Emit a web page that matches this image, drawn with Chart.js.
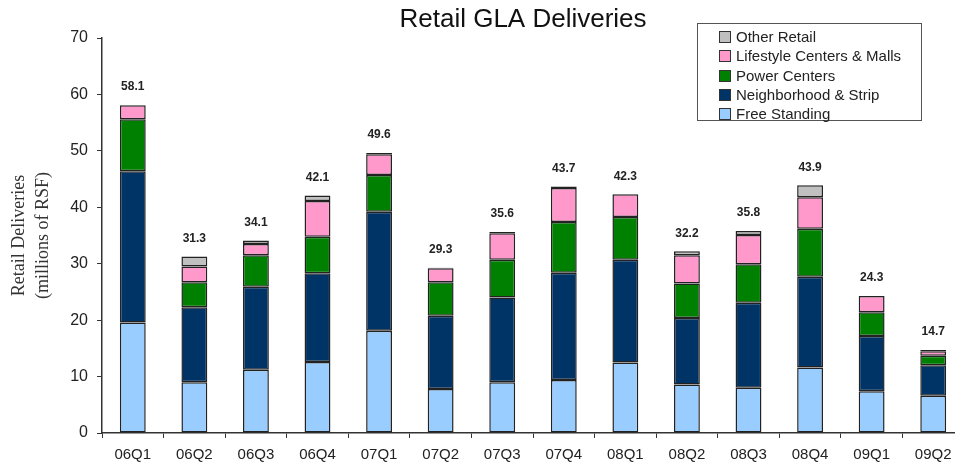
<!DOCTYPE html>
<html lang="en">
<head>
    <meta charset="UTF-8">
    <title>Retail GLA Deliveries</title>
    <script src="https://cdn.jsdelivr.net/npm/chart.js"></script>
    <style>
        body { margin: 0; overflow: hidden; background: #fff; font-family: "Liberation Sans", Arial, sans-serif; }
        #wrap { position: relative; width: 980px; height: 468px; }
        #legend {
            position: absolute; left: 697px; top: 23px; width: 225px; height: 98px;
            border: 1px solid #555; background: #fff; padding-top: 3px; box-sizing: border-box;
        }
        .item { height: 19.3px; line-height: 19.3px; font-size: 15px; color: #222; white-space: nowrap; }
        .sw { display: inline-block; width: 10px; height: 10px; border: 1px solid #333; margin-left: 21px; margin-right: 5px; vertical-align: -1px; }
    </style>
</head>
<body>
<div id="wrap">
    <canvas id="gla" width="980" height="468"></canvas>
    <div id="legend"></div>
</div>

<script>
    const quarters = ['06Q1', '06Q2', '06Q3', '06Q4', '07Q1', '07Q2', '07Q3', '07Q4', '08Q1', '08Q2', '08Q3', '08Q4', '09Q1', '09Q2'];

    const freeStanding  = [19.6, 9.0, 11.2, 12.6, 18.1, 7.8, 9.0, 9.4, 12.5, 8.6, 8.0, 11.6, 7.4, 6.6];
    const neighborhood  = [26.8, 13.3, 14.7, 15.7, 21.1, 13.0, 15.0, 19.0, 18.2, 11.8, 15.1, 16.1, 9.8, 5.4];
    const powerCenters  = [9.2, 4.4, 5.6, 6.5, 6.5, 5.9, 6.7, 9.0, 7.6, 6.1, 6.8, 8.5, 4.2, 1.7];
    const lifestyle     = [2.5, 2.8, 2.0, 6.3, 3.7, 2.5, 4.7, 6.0, 4.0, 5.0, 5.2, 5.6, 2.9, 0.8];
    const otherRetail   = [null, 1.8, 0.6, 1.0, 0.2, 0.1, 0.2, 0.3, null, 0.7, 0.7, 2.1, null, 0.2];
    const totals        = [58.1, 31.3, 34.1, 42.1, 49.6, 29.3, 35.6, 43.7, 42.3, 32.2, 35.8, 43.9, 24.3, 14.7];

    const yTicks = [0, 10, 20, 30, 40, 50, 60, 70];

    const series = [
        { label: 'Free Standing', data: freeStanding, color: '#99ccff' },
        { label: 'Neighborhood & Strip', data: neighborhood, color: '#003366' },
        { label: 'Power Centers', data: powerCenters, color: '#008000' },
        { label: 'Lifestyle Centers & Malls', data: lifestyle, color: '#ff99cc' },
        { label: 'Other Retail', data: otherRetail, color: '#c0c0c0' }
    ];

    // legend, top item is the last stack segment
    const legend = document.getElementById('legend');
    series.slice().reverse().forEach(s => {
        const row = document.createElement('div');
        row.className = 'item';
        row.innerHTML = '<span class="sw" style="background:' + s.color + '"></span>' + s.label;
        legend.appendChild(row);
    });

    const totalsPlugin = {
        id: 'totals',
        afterDatasetsDraw(chart) {
            const ctx = chart.ctx;
            const meta = chart.getDatasetMeta(0);
            const y = chart.scales.y;
            ctx.save();
            ctx.font = 'bold 12px "Liberation Sans", Arial, sans-serif';
            ctx.fillStyle = '#222';
            ctx.textAlign = 'center';
            ctx.textBaseline = 'middle';
            totals.forEach((t, i) => {
                ctx.fillText(t.toFixed(1), meta.data[i].x, y.getPixelForValue(t) - 18);
            });
            ctx.restore();
        }
    };

    const titlePlugin = {
        id: 'bigTitle',
        afterDraw(chart) {
            const ctx = chart.ctx;
            ctx.save();
            ctx.font = '26px "Liberation Sans", Arial, sans-serif';
            ctx.fillStyle = '#111';
            ctx.textAlign = 'center';
            ctx.textBaseline = 'middle';
            ctx.fillText('Retail GLA Deliveries', 523, 20);
            ctx.restore();
        }
    };

    const ctx = document.getElementById('gla').getContext('2d');
    const glaChart = new Chart(ctx, {
        type: 'bar',
        data: {
            labels: quarters,
            datasets: series.map(s => ({
                label: s.label,
                data: s.data,
                backgroundColor: s.color,
                borderColor: '#222',
                borderWidth: 1.5,
                borderSkipped: false,
                barPercentage: 0.42,
                categoryPercentage: 1
            }))
        },
        options: {
            responsive: false,
            animation: false,
            layout: { padding: { top: 38, right: 16, left: 0, bottom: 0 } },
            plugins: {
                legend: { display: false },
                tooltip: { enabled: false }
            },
            scales: {
                x: {
                    stacked: true,
                    afterFit(scale) { scale.height = 35; },
                    grid: { drawOnChartArea: false, tickLength: 5, color: '#333', offset: true },
                    border: { color: '#333', width: 1.5 },
                    ticks: {
                        color: '#222', padding: 8,
                        font: { family: '"Liberation Sans", Arial, sans-serif', size: 15 }
                    }
                },
                y: {
                    stacked: true,
                    min: 0,
                    max: 70,
                    afterFit(scale) { scale.width = 102; },
                    afterBuildTicks(scale) { scale.ticks = yTicks.map(v => ({ value: v })); },
                    grid: { drawOnChartArea: false, tickLength: 5, color: '#333' },
                    border: { color: '#333', width: 1.5 },
                    ticks: {
                        color: '#222', padding: 9,
                        font: { family: '"Liberation Sans", Arial, sans-serif', size: 16 }
                    },
                    title: {
                        display: true,
                        text: ['Retail Deliveries', '(millions of RSF)'],
                        color: '#333',
                        padding: { top: 7, bottom: 0 },
                        font: { family: '"Liberation Serif", "Times New Roman", serif', size: 18, lineHeight: 1.333 }
                    }
                }
            }
        },
        plugins: [totalsPlugin, titlePlugin]
    });
</script>
</body>
</html>
